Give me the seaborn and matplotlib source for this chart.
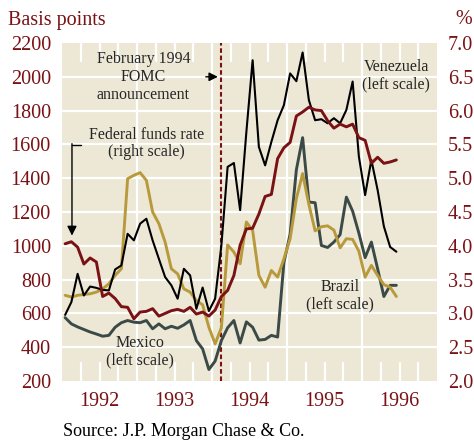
import numpy as np
import pandas as pd
import matplotlib
matplotlib.use("Agg")
import matplotlib.pyplot as plt
import seaborn as sns

# monthly, Jan 1992 - Jun 1996
venezuela = [591, 667, 834, 706, 759, 751, 739, 736, 860, 884, 1071, 1032,
             1131, 1160, 1032, 923, 815, 766, 687, 864, 825, 627, 753, 614,
             687, 1002, 1467, 1490, 1211, 1674, 2098, 1585, 1476, 1615, 1743, 1832,
             2020, 1974, 2144, 1862, 1743, 1749, 1725, 1755, 1725, 1804, 1972, 1528,
             1300, 1508, 1330, 1115, 993, 965]
brazil = [707, 697, 707, 712, 716, 726, 745, 775, 825, 864, 1397, 1417,
          1433, 1387, 1200, 1131, 1022, 864, 834, 745, 726, 676, 651, 518,
          420, 515, 1005, 963, 894, 1141, 1091, 825, 755, 854, 815, 923,
          1042, 1279, 1427, 1245, 1088, 1113, 1118, 1093, 988, 1042, 1038, 968,
          815, 884, 825, 770, 755, 700]
mexico = [575, 538, 520, 505, 490, 478, 465, 470, 518, 545, 558, 548,
          545, 558, 509, 538, 509, 524, 512, 532, 558, 439, 390, 268,
          318, 439, 515, 558, 425, 550, 518, 442, 446, 470, 460, 900,
          1070, 1450, 1640, 1259, 1255, 1002, 990, 1022, 1066, 1288, 1205, 1075,
          930, 1022, 864, 700, 766, 766]
fed_funds = [4.03, 4.06, 3.98, 3.73, 3.82, 3.76, 3.25, 3.30, 3.22, 3.10, 3.09, 2.92,
             3.02, 3.03, 3.07, 2.96, 3.00, 3.04, 3.06, 3.03, 3.09, 2.99, 3.02, 2.96,
             3.05, 3.25, 3.34, 3.56, 4.01, 4.25, 4.26, 4.47, 4.73, 4.76, 5.29, 5.45,
             5.53, 5.92, 5.98, 6.05, 6.01, 6.00, 5.85, 5.74, 5.80, 5.76, 5.80, 5.60,
             5.56, 5.22, 5.31, 5.22, 5.24, 5.27]
years = [1992, 1993, 1994, 1995, 1996]
fomc_date = 1994.125

t = 1992 + (np.arange(len(venezuela)) + 0.5) / 12
df = pd.DataFrame({"t": t, "Venezuela": venezuela, "Brazil": brazil,
                   "Mexico": mexico, "Fed": fed_funds})

RED = "#7a1114"
BG = "#ede8d6"
GOLD = "#b89a3c"
SLATE = "#3c4a47"

sns.set_style("white")
plt.rcParams["font.family"] = ["Liberation Serif", "DejaVu Serif"]

fig = plt.figure(figsize=(4.74, 4.42), dpi=100)
ax = fig.add_axes([62 / 474, 61 / 442, 375 / 474, 338 / 442])
ax.set_facecolor(BG)

# white grid and quarter ticks
for v in range(400, 2200, 200):
    ax.axhline(v, color="white", lw=1.6, zorder=1)
for y in years[1:]:
    ax.axvline(y, color="white", lw=1.6, zorder=1)
for q in np.arange(1992.25, 1997, 0.25):
    if abs(q - round(q)) > 0.01:
        ax.axvline(q, ymin=0, ymax=0.052, color="white", lw=1.6, zorder=1)
        ax.axvline(q, ymin=0.948, ymax=1, color="white", lw=1.6, zorder=1)

sns.lineplot(data=df, x="t", y="Mexico", ax=ax, color=SLATE, lw=2.1, zorder=3)
sns.lineplot(data=df, x="t", y="Brazil", ax=ax, color=GOLD, lw=2.1, zorder=3)
sns.lineplot(data=df, x="t", y="Venezuela", ax=ax, color="black", lw=1.5, zorder=4)
ax.axvline(fomc_date, color=RED, lw=1.5, ls=(0, (2.2, 1.3)), zorder=2)

ax.set_xlim(1992, 1997)
ax.set_ylim(200, 2200)
ax.set_yticks(range(200, 2201, 200))
ax.set_xticks([y + 0.5 for y in years])
ax.set_xticklabels([str(y) for y in years])
ax.tick_params(length=0, colors=RED, labelsize=14.5, pad=8)
ax.set_xlabel("")
ax.set_ylabel("")
for s in ax.spines.values():
    s.set_visible(False)

ax2 = ax.twinx()
sns.lineplot(data=df, x="t", y="Fed", ax=ax2, color=RED, lw=2.1)
ax2.set_ylim(2, 7)
ax2.set_yticks(np.arange(2, 7.01, 0.5))
ax2.set_yticklabels([f"{v:.1f}" for v in np.arange(2, 7.01, 0.5)])
ax2.tick_params(length=0, colors=RED, labelsize=14.5, pad=8)
ax2.set_ylabel("")
ax2.set_xlim(1992, 1997)
for s in ax2.spines.values():
    s.set_visible(False)

# annotations
fs = 11.5
ax.text(1993.085, 2000, "February 1994\nFOMC\nannouncement", ha="center",
        va="center", fontsize=fs, linespacing=1.15, zorder=5)
ax.annotate("", xy=(fomc_date - 0.01, 2000), xytext=(1993.88, 2000),
            arrowprops=dict(arrowstyle="-|>", color="black", lw=1,
                            mutation_scale=13), zorder=5)
ax.text(1993.124, 1605, "Federal funds rate\n(right scale)", ha="center",
        va="center", fontsize=fs, linespacing=1.15, zorder=5)
ax.plot([1992.133, 1992.253], [1598, 1598], color="black", lw=1, zorder=5)
ax.annotate("", xy=(1992.133, 1060), xytext=(1992.133, 1604),
            arrowprops=dict(arrowstyle="-|>", color="black", lw=1,
                            mutation_scale=14, shrinkA=0, shrinkB=0), zorder=5)
ax.text(1996.457, 2005, "Venezuela\n(left scale)", ha="center", va="center",
        fontsize=fs, linespacing=1.15, zorder=5)
ax.text(1995.71, 704, "Brazil\n(left scale)", ha="center", va="center",
        fontsize=fs, linespacing=1.15, zorder=5)
ax.text(1993.044, 375, "Mexico\n(left scale)", ha="center", va="center",
        fontsize=fs, linespacing=1.15, zorder=5)

fig.text(8 / 474, 1 - 20 / 442, "Basis points", color=RED, fontsize=14.5,
         ha="left", va="center")
fig.text(472 / 474, 1 - 20 / 442, "%", color=RED, fontsize=14.5,
         ha="right", va="center")
fig.text(63 / 474, 1 - 431 / 442, "Source: J.P. Morgan Chase & Co.",
         color="black", fontsize=13, ha="left", va="center")

fig.savefig("out.png", dpi=100, facecolor="white")
